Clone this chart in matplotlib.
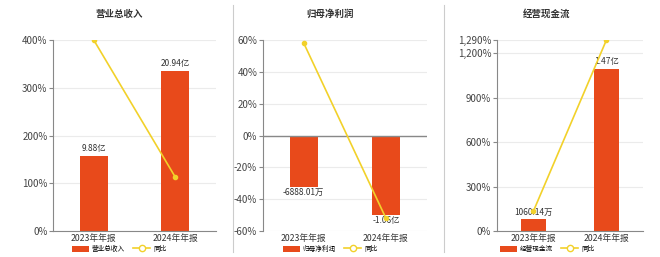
import matplotlib
matplotlib.use("Agg")
import matplotlib.pyplot as plt
from matplotlib.lines import Line2D
from matplotlib.patches import Patch

plt.rcParams['font.family'] = ['Noto Sans CJK SC', 'DejaVu Sans']

BAR_C = '#e84a1b'
LINE_C = '#f2d12a'

periods = ['2023年年报', '2024年年报']

titles = ['营业总收入', '归母净利润', '经营现金流']
# amounts in 亿
amounts = [[9.88, 20.94], [-0.688801, -1.06], [0.106014, 1.47]]
amount_labels = [['9.88亿', '20.94亿'], ['-6888.01万', '-1.06亿'], ['1060.14万', '1.47亿']]
# yoy %
yoy = [[400, 113], [58, -52], [132, 1290]]

yticks = [[0, 100, 200, 300, 400],
          [-60, -40, -20, 0, 20, 40, 60],
          [0, 300, 600, 900, 1200, 1290]]
ylims = [(0, 400), (-60, 60), (0, 1290)]
bar_lims = [(0, 25), (-1.28, 1.28), (0, 1.73)]

axes_x = [(53, 216), (262.7, 427), (496.7, 643)]
title_x = [119, 330, 547]

W, H = 660, 257
fig = plt.figure(figsize=(6.6, 2.57), dpi=100)

for i in range(3):
    x0, x1 = axes_x[i]
    ax = fig.add_axes([x0 / W, 1 - 231 / H, (x1 - x0) / W, 191 / H])
    ax2 = ax.twinx()
    ax.set_zorder(ax2.get_zorder() + 1)
    ax.patch.set_visible(False)

    xs = [0, 1]
    # grid lines drawn behind the bars, in the percentage scale
    for t in yticks[i]:
        ax2.plot([0, 1], [t, t], transform=ax.get_yaxis_transform(),
                 color='#ebebeb', lw=0.8, zorder=0)
    ax2.bar(xs, amounts[i], width=0.34, color=BAR_C, zorder=2)
    ax2.set_ylim(*bar_lims[i])
    ax2.set_yticks([])
    for s in ax2.spines.values():
        s.set_visible(False)

    for x, v, lab in zip(xs, amounts[i], amount_labels[i]):
        if v >= 0:
            ax2.annotate(lab, (x, v), xytext=(0, 2), textcoords='offset points',
                         ha='center', va='bottom', fontsize=6, color='#333333')
        else:
            ax2.annotate(lab, (x, v), xytext=(0, -1), textcoords='offset points',
                         ha='center', va='top', fontsize=6, color='#333333')

    ax.plot(xs, yoy[i], color=LINE_C, lw=1.2, marker='o', ms=3, zorder=3)
    ax.set_xlim(-0.5, 1.5)
    ax2.set_xlim(-0.5, 1.5)
    ax.set_ylim(*ylims[i])
    ax.set_yticks(yticks[i])
    ax.set_yticklabels([f'{t:,}%' for t in yticks[i]], fontsize=7, color='#444444')
    ax.set_xticks(xs)
    ax.set_xticklabels(periods, fontsize=6.3, color='#333333')
    ax.tick_params(axis='y', length=3, color='#888888', pad=1)
    ax.tick_params(axis='x', length=0, pad=2)
    ax.spines['top'].set_visible(False)
    ax.spines['right'].set_visible(False)
    ax.spines['left'].set_color('#888888')
    if ylims[i][0] < 0:
        ax.spines['bottom'].set_visible(False)
        ax.axhline(0, color='#888888', lw=1)
    else:
        ax.spines['bottom'].set_color('#888888')

    fig.text(title_x[i] / W, 1 - 14 / H, titles[i], ha='center', va='center',
             fontsize=6.8, fontweight='bold', color='#333333')

    handles = [Patch(facecolor=BAR_C, edgecolor='none', label=titles[i]),
               Line2D([], [], color=LINE_C, marker='o', ms=4.5, mfc='white',
                      mec=LINE_C, lw=1.2, label='同比')]
    fig.legend(handles=handles, loc='center', bbox_to_anchor=(title_x[i] / W, 1 - 249 / H),
               ncol=2, frameon=False, fontsize=4.8, handlelength=2.6, handleheight=1.1,
               columnspacing=1.2, handletextpad=0.4, borderpad=0)

for xv in [233, 444]:
    fig.add_artist(Line2D([xv / W, xv / W], [0.02, 0.98], color='#cccccc', lw=0.8))

fig.savefig('out.png', dpi=100)
